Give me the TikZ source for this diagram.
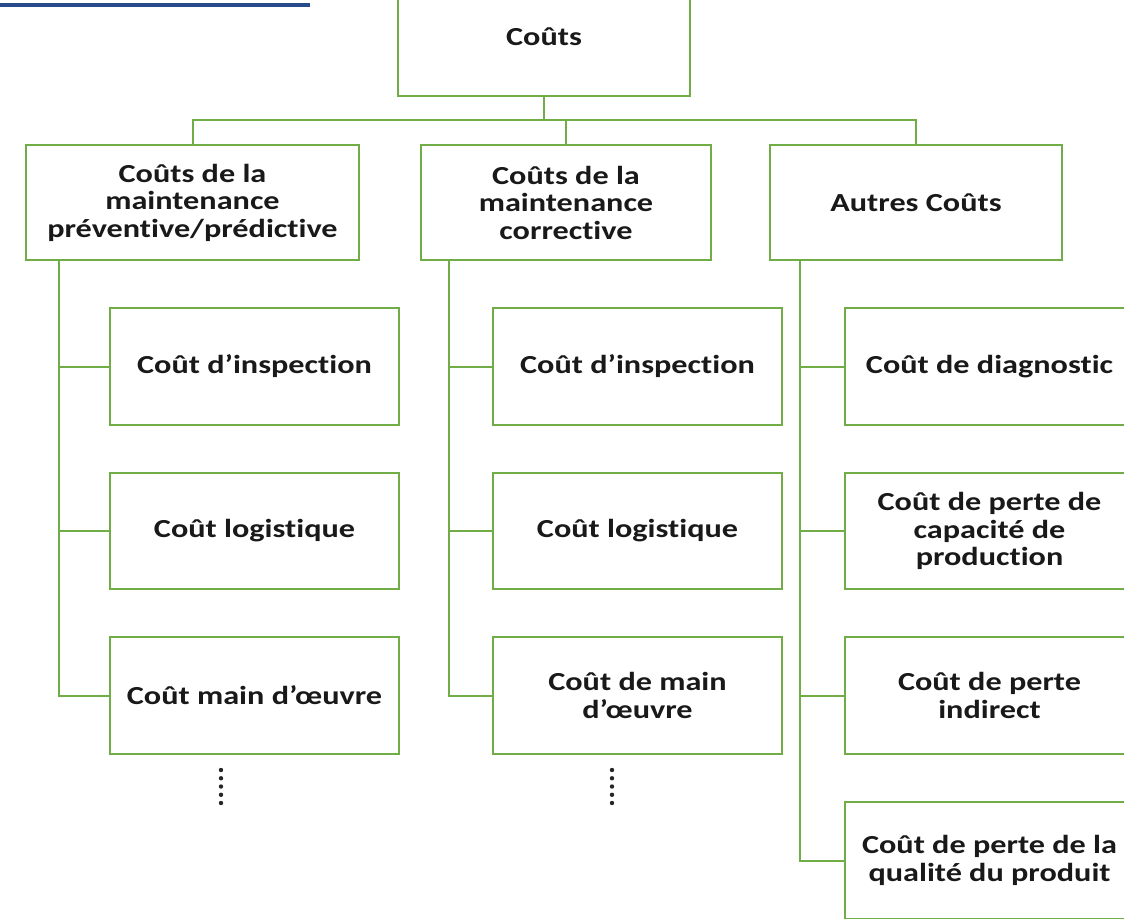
\documentclass[tikz,border=0pt]{standalone}
\usepackage{fontspec}
\setmainfont{Carlito}[FakeStretch=1.24, Ligatures=NoCommon]
\usetikzlibrary{positioning, calc}

\definecolor{boxgreen}{RGB}{112,173,71}
\definecolor{headblue}{RGB}{40,75,140}

\begin{document}
\begin{tikzpicture}[x=1pt, y=-1pt,
    costbox/.style={draw=boxgreen, line width=2pt, fill=white, rectangle,
        minimum width=290pt, minimum height=116pt, inner sep=0pt,
        align=center, text=black!90,
        font=\fontsize{26}{27.5}\selectfont\bfseries},
    link/.style={draw=boxgreen, line width=2pt}]
    \useasboundingbox (0,0) rectangle (1124,918);
    \clip (0,0) rectangle (1124,918);

    % cut heading
    \draw[headblue, line width=3.5pt] (0,5) -- (310,5);

    % top
    \node[costbox, minimum width=292pt, minimum height=118pt] (couts) at (544,37) {Coûts};
    \coordinate (bus) at (544,120);

    % second level
    \node[costbox, minimum width=333pt, minimum height=115pt] (prev) at (192.5,202.5) {Coûts de la\\maintenance\\préventive/prédictive};
    \node[costbox, minimum height=115pt] (corr) at (566,202.5) {Coûts de la\\maintenance\\corrective};
    \node[costbox, minimum width=292pt, minimum height=115pt] (autres) at (916,202.5) {Autres Coûts};

    \draw[link] (couts.south) -- (bus);
    \draw[link] (prev.north) |- (autres.north |- bus) -- (autres.north);
    \draw[link] (corr.north) -- (corr.north |- bus);

    % preventive / predictive
    \node[costbox, minimum width=289pt, minimum height=117pt] (prevA) at (254.5,366.5) {Coût d’inspection};
    \node[costbox, minimum width=289pt] (prevB) at (254.5,531) {Coût logistique};
    \node[costbox, minimum width=289pt, minimum height=117pt] (prevC) at (254.5,695.5) {Coût main d’œuvre};
    \coordinate (prevS) at ($(prev.south west)+(34,0)$);
    \draw[link] (prevS) |- (prevC.west);
    \draw[link] (prevA.west) -- (prevA.west -| prevS);
    \draw[link] (prevB.west) -- (prevB.west -| prevS);

    % corrective
    \node[costbox, minimum width=289pt, minimum height=117pt] (corrA) at (637.5,366.5) {Coût d’inspection};
    \node[costbox, minimum width=289pt] (corrB) at (637.5,531) {Coût logistique};
    \node[costbox, minimum width=289pt, minimum height=117pt] (corrC) at (637.5,695.5) {Coût de main\\d’œuvre};
    \coordinate (corrS) at ($(corr.south west)+(29,0)$);
    \draw[link] (corrS) |- (corrC.west);
    \draw[link] (corrA.west) -- (corrA.west -| corrS);
    \draw[link] (corrB.west) -- (corrB.west -| corrS);

    % autres
    \node[costbox, minimum width=289pt, minimum height=117pt] (autA) at (989.5,366.5) {Coût de diagnostic};
    \node[costbox, minimum width=289pt] (autB) at (989.5,531) {Coût de perte de\\capacité de\\production};
    \node[costbox, minimum width=289pt, minimum height=117pt] (autC) at (989.5,695.5) {Coût de perte\\indirect};
    \node[costbox, minimum width=289pt, minimum height=117pt] (autD) at (989.5,860.5) {Coût de perte de la\\qualité du produit};
    \coordinate (autS) at ($(autres.south west)+(31,0)$);
    \draw[link] (autS) |- (autD.west);
    \draw[link] (autA.west) -- (autA.west -| autS);
    \draw[link] (autB.west) -- (autB.west -| autS);
    \draw[link] (autC.west) -- (autC.west -| autS);

    % more items
    \foreach \k in {0,...,4} {
        \fill[black!85] (221,770+8.25*\k) circle (2.2pt);
        \fill[black!85] (612,770+8.25*\k) circle (2.2pt);
    }
\end{tikzpicture}
\end{document}
